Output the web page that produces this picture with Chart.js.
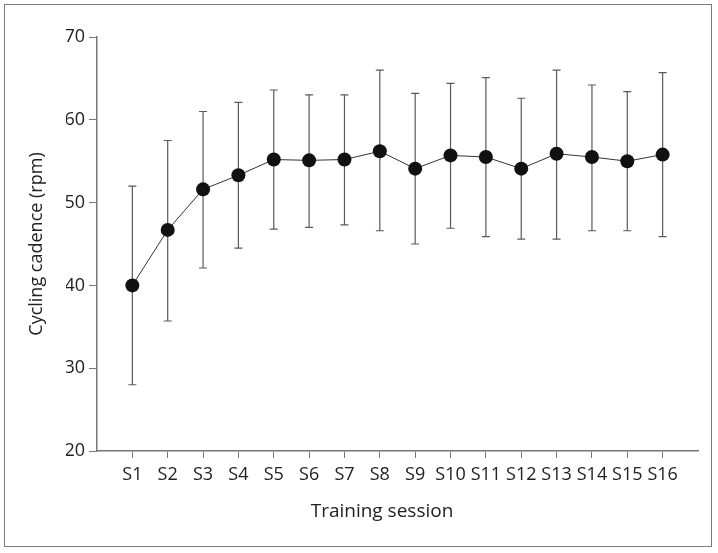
<!DOCTYPE html>
<html>
<head>
<meta charset="utf-8">
<script src="https://cdn.jsdelivr.net/npm/chart.js@4"></script>
<style>
  html, body { margin: 0; padding: 0; background: #fff; }
  #wrap { position: relative; width: 718px; height: 553px; }
  #frame { position: absolute; left: 4px; top: 4px; width: 708px; height: 543px; border: 1.5px solid #7a7a7a; box-sizing: border-box; pointer-events: none; }
  canvas { position: absolute; left: 0; top: 0; }
</style>
</head>
<body>
<div id="wrap">
  <canvas id="c" width="718" height="553"></canvas>
  <div id="frame"></div>
</div>
<script>
const sessions = ['S1','S2','S3','S4','S5','S6','S7','S8','S9','S10','S11','S12','S13','S14','S15','S16'];
const meanCadence = [40.0, 46.7, 51.6, 53.3, 55.2, 55.1, 55.2, 56.2, 54.1, 55.7, 55.5, 54.1, 55.9, 55.5, 55.0, 55.8];
const upperCadence = [52.0, 57.5, 61.0, 62.1, 63.6, 63.0, 63.0, 66.0, 63.2, 64.4, 65.1, 62.6, 66.0, 64.2, 63.4, 65.7];
const lowerCadence = [28.0, 35.7, 42.1, 44.5, 46.8, 47.0, 47.3, 46.6, 45.0, 46.9, 45.9, 45.6, 45.6, 46.6, 46.6, 45.9];
const yTicks = [20, 30, 40, 50, 60, 70];

const FONT = "'Open Sans', 'Noto Sans', sans-serif";

const errorBars = {
  id: 'errorBars',
  beforeDatasetsDraw(chart) {
    const ctx = chart.ctx, xs = chart.scales.x, ys = chart.scales.y;
    ctx.save();
    ctx.strokeStyle = '#5a5a5a';
    ctx.lineWidth = 1.2;
    sessions.forEach((s, i) => {
      const x = xs.getPixelForValue(i + 1);
      const yt = ys.getPixelForValue(upperCadence[i]);
      const yb = ys.getPixelForValue(lowerCadence[i]);
      ctx.beginPath();
      ctx.moveTo(x, yt); ctx.lineTo(x, yb);
      ctx.moveTo(x - 4, yt); ctx.lineTo(x + 4, yt);
      ctx.moveTo(x - 4, yb); ctx.lineTo(x + 4, yb);
      ctx.stroke();
    });
    ctx.restore();
  }
};

new Chart(document.getElementById('c'), {
  type: 'line',
  data: {
    datasets: [{
      data: meanCadence.map((v, i) => ({ x: i + 1, y: v })),
      borderColor: '#333',
      borderWidth: 1,
      pointRadius: 7,
      pointBackgroundColor: '#111',
      pointBorderColor: '#111',
      pointBorderWidth: 0,
      tension: 0
    }]
  },
  options: {
    responsive: false,
    animation: false,
    devicePixelRatio: 1,
    layout: { padding: { top: 37, right: 20, left: 66, bottom: 0 } },
    plugins: {
      legend: { display: false },
      tooltip: { enabled: false },
      title: {
        display: true,
        position: 'bottom',
        fullSize: true,
        text: 'Training session',
        color: '#222',
        font: { family: FONT, size: 19, weight: 'normal', lineHeight: 1.2 },
        padding: { top: 0, bottom: 30 }
      }
    },
    scales: {
      x: {
        type: 'linear',
        min: 0, max: 17,
        afterBuildTicks(scale) {
          scale.ticks = sessions.map((s, i) => ({ value: i + 1 }));
        },
        afterFit(scale) { scale.height = 102 - 52.8; },
        ticks: {
          callback: (v) => sessions[v - 1] || '',
          color: '#222',
          font: { family: FONT, size: 18 },
          padding: 6,
          maxRotation: 0,
          autoSkip: false
        },
        grid: { drawOnChartArea: false, drawTicks: true, tickLength: 7, color: '#777', lineWidth: 1 },
        border: { display: true, color: '#777', width: 1.5 }
      },
      y: {
        min: 20, max: 70,
        afterBuildTicks(scale) {
          scale.ticks = yTicks.map(v => ({ value: v }));
        },
        afterFit(scale) { scale.width = 31; },
        ticks: {
          color: '#222',
          font: { family: FONT, size: 18 },
          padding: 4
        },
        grid: { drawOnChartArea: false, drawTicks: true, tickLength: 8, color: '#777', lineWidth: 1 },
        border: { display: true, color: '#777', width: 1.5 },
        title: {
          display: true, text: 'Cycling cadence (rpm)',
          color: '#222', font: { family: FONT, size: 18, lineHeight: 1.2 },
          padding: { top: -39.8, bottom: 0 }
        }
      }
    }
  },
  plugins: [errorBars]
});
</script>
</body>
</html>
